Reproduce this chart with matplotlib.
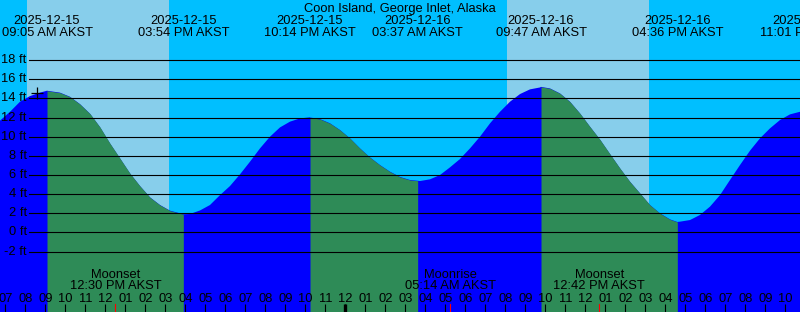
import matplotlib
matplotlib.use("Agg")
import matplotlib.pyplot as plt
import matplotlib.dates as mdates
import pandas as pd

station = "Coon Island, George Inlet, Alaska"
tz_name = "AKST"

start = pd.Timestamp("2025-12-15 06:44")
end = start + pd.Timedelta(hours=40)

# water level (ft) every 30 minutes from the left edge
level_ft = [
    11.67, 12.6, 13.65, 14.24, 14.6, 14.75, 14.6, 14.17, 13.4, 12.4,
    11.0, 9.3, 7.74, 6.17, 4.85, 3.67, 2.87, 2.28, 2.0, 1.93,
    2.3, 2.87, 3.9, 4.85, 6.07, 7.39, 8.78, 10.0, 10.97, 11.57,
    11.91, 12.02, 11.84, 11.4, 10.7, 9.83, 8.78, 7.84, 7.04, 6.35,
    5.8, 5.48, 5.37, 5.55, 6.0, 6.8, 7.67, 8.78, 10.0, 11.39,
    12.6, 13.65, 14.45, 14.94, 15.14, 15.04, 14.52, 13.65, 12.43, 11.04,
    9.7, 8.19, 6.7, 5.3, 4.09, 2.87, 2.0, 1.37, 1.13, 1.3,
    1.83, 2.7, 3.9, 5.48, 7.04, 8.54, 9.83, 10.87, 11.74, 12.33,
    12.6,
]
level_times = pd.date_range(start, periods=len(level_ft), freq="30min")

# high / low tides
extreme_times = pd.to_datetime([
    "2025-12-15 09:05", "2025-12-15 15:54", "2025-12-15 22:14",
    "2025-12-16 03:37", "2025-12-16 09:47", "2025-12-16 16:36",
    "2025-12-16 23:01",
])
extreme_ft = [14.8, 1.9, 12.0, 5.4, 15.2, 1.1, 12.9]
extreme_kind = ["high", "low", "high", "low", "high", "low", "high"]

sunrise = pd.to_datetime(["2025-12-15 08:04", "2025-12-16 08:04"])
sunset = pd.to_datetime(["2025-12-15 15:10", "2025-12-16 15:10"])

moon_times = pd.to_datetime(["2025-12-15 12:30", "2025-12-16 05:14", "2025-12-16 12:42"])
moon_events = ["Moonset", "Moonrise", "Moonset"]

now_time = pd.Timestamp("2025-12-15 08:36")
now_ft = 14.6

grid_ft = [-2, 0, 2, 4, 6, 8, 10, 12, 14, 16, 18]

NIGHT = "#00BFFF"
DAY = "#87CEEB"
RISING = "#0000FF"
FALLING = "#2E8B57"
FS = 9.3
H = 312.0  # figure height in px, used for text placement

plt.rcParams["font.family"] = ["Liberation Sans", "DejaVu Sans"]

fig = plt.figure(figsize=(8, 3.12), dpi=100)
ax = fig.add_axes([0, 0, 1, 1])
ax.set_facecolor(NIGHT)
ax.set_xlim(start, end)
ax.set_ylim(-8.3, 24.27)
bottom = -8.3

for sr, ss in zip(sunrise, sunset):
    ax.axvspan(sr, ss, color=DAY, lw=0, zorder=0)

curve = pd.concat([
    pd.Series(level_ft, index=level_times),
    pd.Series(extreme_ft, index=extreme_times),
]).sort_index()

ax.fill_between(curve.index, curve.values, bottom, color=RISING, lw=0, zorder=1)
for i in range(len(extreme_times) - 1):
    if extreme_kind[i] == "high" and extreme_kind[i + 1] == "low":
        seg = curve[extreme_times[i]:extreme_times[i + 1]]
        ax.fill_between(seg.index, seg.values, bottom, color=FALLING, lw=0, zorder=2)

# depth lines with labels
for g in grid_ft:
    ax.axhline(g, xmin=29.3 / 800, color="black", lw=0.8, zorder=3)
    ax.text(26.7 / 800, g, f"{g} ft", transform=ax.get_yaxis_transform(),
            ha="right", va="center", fontsize=FS, zorder=5)

ax.plot(now_time, now_ft, marker="+", color="black", ms=8, mew=0.9, zorder=4)

# header
xt = ax.get_xaxis_transform()
ax.text(0.5, 1 - 12 / H, station, transform=ax.transAxes, ha="center",
        va="baseline", fontsize=FS)
for t in extreme_times:
    ax.text(t, 1 - 24 / H, t.strftime("%Y-%m-%d"), transform=xt, ha="center",
            va="baseline", fontsize=FS, clip_on=False)
    ax.text(t, 1 - 36 / H, t.strftime("%I:%M %p ") + tz_name, transform=xt,
            ha="center", va="baseline", fontsize=FS, clip_on=False)

# moon events
for t, ev in zip(moon_times, moon_events):
    ax.text(t, 1 - 277.5 / H, ev, transform=xt, ha="center", va="baseline",
            fontsize=FS, zorder=5)
    ax.text(t, 1 - 289 / H, t.strftime("%I:%M %p ") + tz_name, transform=xt,
            ha="center", va="baseline", fontsize=FS, zorder=5)
    ax.axvline(t, ymax=8 / H, color="red", lw=0.8, zorder=5)

# hour axis drawn inside the plot
ax.xaxis.set_major_locator(mdates.HourLocator())
ax.xaxis.set_major_formatter(mdates.DateFormatter("%I"))
midnight = extreme_times[3].normalize()
ax.xaxis.remove_overlapping_locs = False
ax.set_xticks([midnight], minor=True)
ax.tick_params(axis="x", which="major", direction="in", length=6, width=0.8,
               pad=-13.5, labelsize=FS, color="black")
ax.tick_params(axis="x", which="minor", direction="in", length=6, width=2.4,
               color="black")
ax.xaxis.set_zorder(6)
ax.set_yticks([])
for sp in ax.spines.values():
    sp.set_visible(False)

fig.savefig("out.png", dpi=100)
